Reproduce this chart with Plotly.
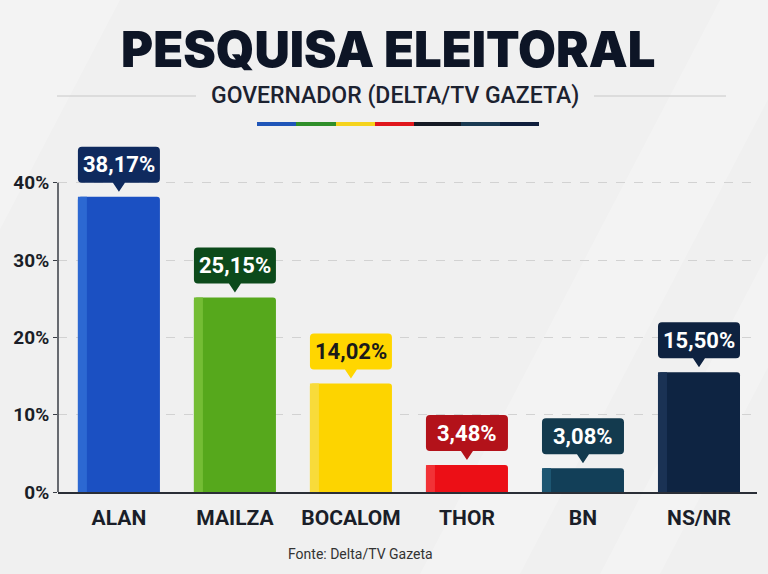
import plotly.graph_objects as go

categories = ["ALAN", "MAILZA", "BOCALOM", "THOR", "BN", "NS/NR"]
values = [38.17, 25.15, 14.02, 3.48, 3.08, 15.50]
labels = ["38,17%", "25,15%", "14,02%", "3,48%", "3,08%", "15,50%"]
y_ticks = [0, 10, 20, 30, 40]
y_tick_labels = ["0%", "10%", "20%", "30%", "40%"]

bar_colors = ["#1b50c2", "#56a81c", "#fdd400", "#ec0f16", "#123f58", "#0e2442"]
strip_colors = ["#2c68d2", "#74bd34", "#f8db3a", "#f23236", "#1d5672", "#1a3254"]
box_colors = ["#0f2a5e", "#0c4a1b", "#ffd600", "#b3121a", "#133a4e", "#0e2240"]
box_text_colors = ["#ffffff", "#ffffff", "#1a1a1a", "#ffffff", "#ffffff", "#ffffff"]
stripe_colors = ["#1f55b8", "#2f8f2a", "#f5d31c", "#e0161c", "#151a24", "#1a3a52", "#0f1e3c"]

CAT_FONT = "Roboto, sans-serif"

W, H = 768, 574
PL, PR, PT, PB = 58, 757, 144, 492   # plot area in page pixels
Y_MAX = 45

def px_x(p):
    return (p - PL) / (PR - PL)

def px_y(p):
    return (PB - p) / (PB - PT)

fig = go.Figure()
fig.add_trace(go.Bar(
    x=list(range(len(categories))), y=values,
    marker=dict(color=bar_colors, line=dict(width=0), cornerradius=3),
    width=0.707, hoverinfo="skip", showlegend=False,
))

shapes = []
annotations = []

# subtle diagonal light streaks in the background
for (a, b) in [(-300, -180), (420, 520), (600, 660)]:
    shapes.append(dict(type="path", xref="paper", yref="paper", layer="below",
                       path=f"M {px_x(a + 300)},{px_y(0)} L {px_x(b + 300)},{px_y(0)} "
                            f"L {px_x(b)},{px_y(H)} L {px_x(a)},{px_y(H)} Z",
                       fillcolor="rgba(255,255,255,0.22)", line=dict(width=0)))

half = 41
for i, v in enumerate(values):
    shapes.append(dict(type="rect", xref="x", yref="y", xsizemode="pixel", xanchor=i,
                       x0=-half, x1=-half + 9, y0=0, y1=v, fillcolor=strip_colors[i],
                       line=dict(width=0), layer="above"))
    r = 4
    bt, bb, tip, pw = 50, 14, 5, 6
    path = (f"M {-half + r},{bt} L {half - r},{bt} Q {half},{bt} {half},{bt - r} "
            f"L {half},{bb + r} Q {half},{bb} {half - r},{bb} L {pw},{bb} L 0,{tip} L {-pw},{bb} "
            f"L {-half + r},{bb} Q {-half},{bb} {-half},{bb + r} L {-half},{bt - r} "
            f"Q {-half},{bt} {-half + r},{bt} Z")
    shapes.append(dict(type="path", xref="x", yref="y", xsizemode="pixel", ysizemode="pixel",
                       xanchor=i, yanchor=v, path=path, fillcolor=box_colors[i],
                       line=dict(width=0), layer="above"))
    annotations.append(dict(x=i, y=v, xref="x", yref="y", text=labels[i], showarrow=False,
                            yshift=32, font=dict(family=CAT_FONT, size=22, color=box_text_colors[i],
                                                 weight="bold")))

# y axis line only up to 40%
shapes.append(dict(type="line", xref="paper", yref="y", x0=0, x1=0, y0=0, y1=40,
                   line=dict(color="#3a3e46", width=1.5)))

# header lines and colour stripe
shapes.append(dict(type="line", xref="paper", yref="paper", x0=px_x(57), x1=px_x(196),
                   y0=px_y(96), y1=px_y(96), line=dict(color="#c8c8c8", width=1)))
shapes.append(dict(type="line", xref="paper", yref="paper", x0=px_x(594), x1=px_x(726),
                   y0=px_y(96), y1=px_y(96), line=dict(color="#c8c8c8", width=1)))
seg_edges = [257, 296, 336, 375, 414, 461, 500, 539]
for k, c in enumerate(stripe_colors):
    shapes.append(dict(type="rect", xref="paper", yref="paper", x0=px_x(seg_edges[k]),
                       x1=px_x(seg_edges[k + 1]), y0=px_y(126), y1=px_y(122),
                       fillcolor=c, line=dict(width=0)))

annotations.append(dict(xref="paper", yref="paper", x=px_x(388), y=px_y(50), text="PESQUISA ELEITORAL",
                        showarrow=False, xanchor="center", yanchor="middle",
                        font=dict(family="Inter, Lato, sans-serif", size=49, color="#0d1526", weight=900)))
annotations.append(dict(xref="paper", yref="paper", x=px_x(395), y=px_y(96),
                        text="GOVERNADOR (DELTA/TV GAZETA)", showarrow=False,
                        xanchor="center", yanchor="middle",
                        font=dict(family="Roboto, sans-serif", size=23, color="#1c2230", weight=500)))
annotations.append(dict(xref="paper", yref="paper", x=px_x(360), y=px_y(554),
                        text="Fonte: Delta/TV Gazeta", showarrow=False,
                        xanchor="center", yanchor="middle",
                        font=dict(family=CAT_FONT, size=14, color="#333333")))

fig.update_layout(
    width=W, height=H,
    margin=dict(l=PL, r=W - PR, t=PT, b=H - PB, pad=0),
    paper_bgcolor="#f0f0f0", plot_bgcolor="rgba(0,0,0,0)",
    shapes=shapes, annotations=annotations,
    xaxis=dict(tickmode="array", tickvals=list(range(len(categories))), ticktext=categories,
               range=[-0.525, len(categories) - 0.5], showgrid=False, zeroline=False,
               showline=True, linecolor="#2a2e36", linewidth=2, ticks="",
               tickfont=dict(family=CAT_FONT, size=21, color="#1a1e28", weight="bold"),
               ticklabelstandoff=6),
    yaxis=dict(range=[0, Y_MAX], tickmode="array", tickvals=y_ticks, ticktext=y_tick_labels,
               showgrid=True, gridcolor="#d2d2d2", griddash="dash", gridwidth=1,
               zeroline=False, showline=False,
               ticks="outside", ticklen=4, tickcolor="#3a3e46",
               tickfont=dict(family=CAT_FONT, size=19, color="#1a1e28", weight="bold")),
    bargap=0.3,
)

fig.write_html("out.html", config={"displayModeBar": False},
               post_script="document.body.style.margin='0';"
                           "document.body.style.background='#f0f0f0';")
